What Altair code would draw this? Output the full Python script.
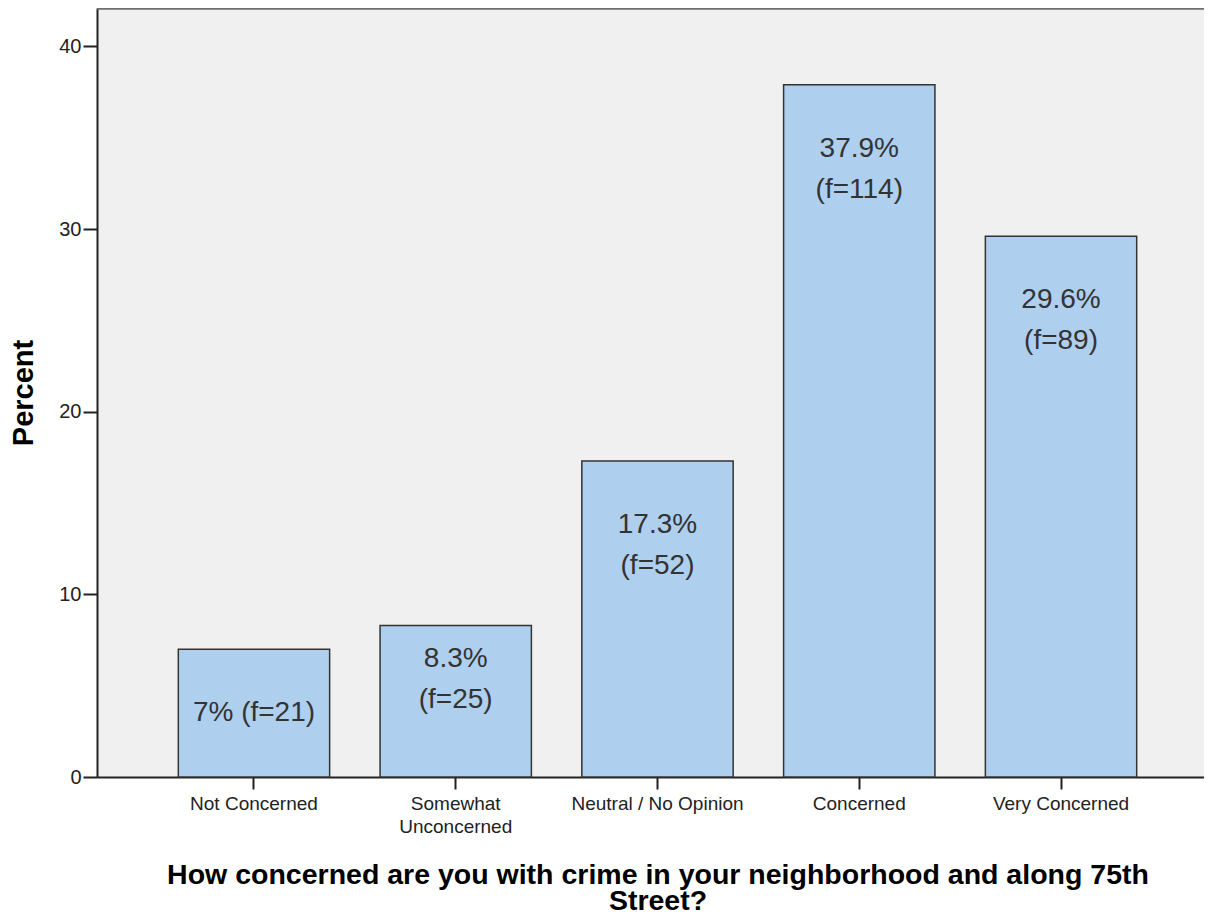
import altair as alt
import pandas as pd

categories = ["Not Concerned", "Somewhat Unconcerned", "Neutral / No Opinion", "Concerned", "Very Concerned"]
percents = [7.0, 8.3, 17.3, 37.9, 29.6]
freqs = [21, 25, 52, 114, 89]
bar_labels = ["7% (f=21)", "8.3%\n(f=25)", "17.3%\n(f=52)", "37.9%\n(f=114)", "29.6%\n(f=89)"]
y_ticks = [0, 10, 20, 30, 40]
x_title = ["How concerned are you with crime in your neighborhood and along 75th", "Street?"]
y_title = "Percent"

df = pd.DataFrame({"cat": categories, "pct": percents, "f": freqs, "label": bar_labels})

FONT = "Liberation Sans"
DARK = "#222222"
W, H = 1107, 769

x_enc = alt.X(
    "cat:N",
    sort=categories,
    scale=alt.Scale(paddingInner=0.25, paddingOuter=0.403, range=[0, 1121]),
    axis=alt.Axis(
        title=x_title,
        titleFont=FONT, titleFontSize=28.5, titleFontWeight="bold", titleColor="#000000",
        titleLineHeight=26, titleBaseline="alphabetic", titleY=106,
        labelAngle=0, labelFont=FONT, labelFontSize=19, labelColor="#222222",
        labelLineHeight=23, labelPadding=5,
        labelExpr="datum.value == 'Somewhat Unconcerned' ? ['Somewhat', 'Unconcerned'] : datum.value",
        tickSize=12, tickColor=DARK, tickWidth=2,
        domainColor=DARK, domainWidth=2, grid=False,
    ),
)

y_scale = alt.Scale(domain=[0, 42.1], nice=False)

bars = alt.Chart(df).mark_bar(
    color="#aecfee", stroke="#333333", strokeWidth=1.5
).encode(
    x=x_enc,
    y=alt.Y(
        "pct:Q",
        scale=y_scale,
        axis=alt.Axis(
            title=y_title, values=y_ticks,
            titleFont=FONT, titleFontSize=29, titleFontWeight="bold", titleColor="#000000",
            titlePadding=20,
            labelFont=FONT, labelFontSize=20, labelColor="#222222", labelPadding=2,
            tickSize=14, tickColor=DARK, tickWidth=2,
            domainColor=DARK, domainWidth=2, grid=False,
        ),
    ),
)

texts = alt.Chart(df).transform_calculate(
    ylab="indexof(datum.label, '\\n') < 0 ? datum.pct / 2 : datum.pct - min(3.5, 0.22 * datum.pct)"
).mark_text(
    font=FONT, fontSize=28, color="#333333", lineBreak="\n", lineHeight=41,
    baseline="middle", align="center"
).encode(
    x=alt.X("cat:N", sort=categories),
    y=alt.Y("ylab:Q", scale=y_scale),
    text="label:N",
)

top_border = alt.Chart(df).mark_rule(color="#707070", strokeWidth=2.5).encode(
    x=alt.value(0), x2=alt.value(W), y=alt.value(0)
)

chart = alt.layer(bars, texts, top_border).properties(
    width=W, height=H,
    autosize=alt.AutoSizeParams(type="none"),
    padding={"left": 89, "top": 0, "right": 0, "bottom": 135},
    background="#ffffff",
).configure_view(
    fill="#f0f0f0", stroke=None
)

chart.save("out.html", embed_options={"renderer": "svg", "actions": False})
